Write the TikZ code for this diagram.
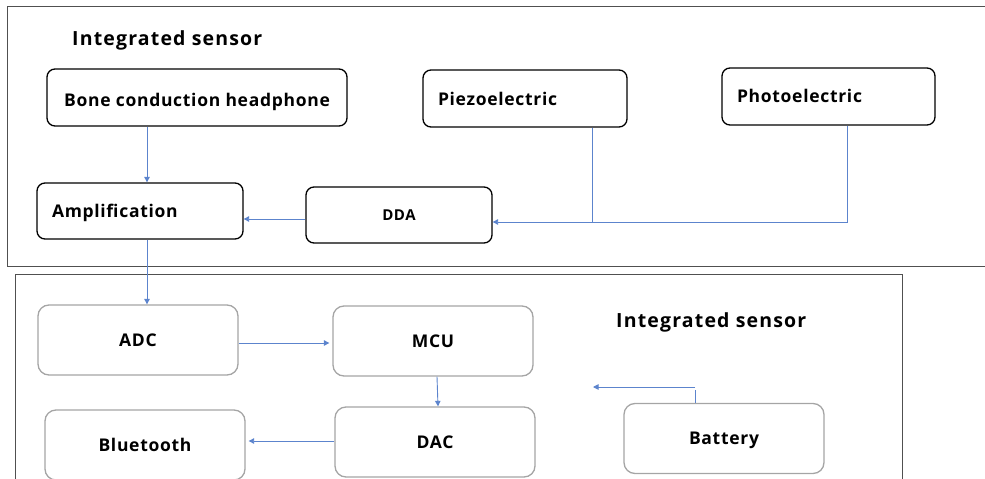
\documentclass[tikz,border=0pt]{standalone}
\usepackage{fontspec}
\setmainfont{Open Sans}[LetterSpace=4]
\usetikzlibrary{arrows.meta}
\definecolor{linkblue}{RGB}{92,132,205}
\definecolor{framegray}{RGB}{80,80,80}
\definecolor{softgray}{RGB}{165,165,165}
\tikzset{
  every node/.style={text height=15pt, text depth=2.5pt},
  frame/.style={draw=framegray, line width=0.9pt},
  boxfont/.style={font=\bfseries\fontsize{17.5}{20}\selectfont},
  darkbox/.style={draw=black, line width=1.3pt, rounded corners=8pt, boxfont},
  lightbox/.style={draw=softgray, line width=1.3pt, rounded corners=11pt, boxfont},
  leftbox/.style={text width=#1, align=left, inner xsep=15pt},
  title/.style={font=\bfseries\fontsize{19.5}{22}\selectfont\addfontfeature{LetterSpace=6}, anchor=west, inner sep=0pt, text height=16.5pt, text depth=2.6pt},
  link/.style={draw=linkblue, line width=0.9pt, -{Triangle[width=5.5pt,length=5.5pt]}},
  plain/.style={draw=linkblue, line width=0.9pt}
}
\begin{document}
\begin{tikzpicture}[x=1pt,y=-1pt]
\useasboundingbox (0,0) rectangle (985,479);
\clip (0,0) rectangle (985,479);
% outer frames
\draw[frame] (7,6) rectangle (995,266);
\draw[frame] (15,274) rectangle (902,490);
% upper block
\node[title] (t1) at (72,38.5) {Integrated sensor};
\node[darkbox, minimum width=300pt, minimum height=57pt, text height=20pt, text depth=2.5pt] (bone) at (197,97.5) {Bone conduction headphone};
\node[darkbox, leftbox=174pt, minimum height=57pt, text height=16pt, text depth=2.5pt] (piezo) at (525,98.5) {Piezoelectric};
\node[darkbox, leftbox=183pt, minimum height=57pt] (photo) at (828.5,96.5) {Photoelectric};
\node[darkbox, leftbox=176pt, minimum height=56pt] (amp) at (140,211) {Amplification};
\node[darkbox, minimum width=186pt, minimum height=56pt, font=\bfseries\fontsize{15}{17}\selectfont, text height=13pt, text depth=2.3pt] (dda) at (399,215) {DDA};
% lower block
\node[title] (t2) at (616,320.5) {Integrated sensor};
\node[lightbox, minimum width=200pt, minimum height=70pt] (adc) at (138,340) {ADC};
\node[lightbox, minimum width=200pt, minimum height=70pt] (mcu) at (433,341) {MCU};
\node[lightbox, minimum width=200pt, minimum height=70pt] (dac) at (435,442) {DAC};
\node[lightbox, minimum width=200pt, minimum height=70pt] (bt) at (145,445) {Bluetooth};
\node[lightbox, minimum width=200pt, minimum height=70pt] (bat) at (724,438.5) {Battery};
% junction points
\coordinate (jp) at (592,222);
\coordinate (jb) at (695,387);
\coordinate (be) at (593,387);
% connectors
\draw[link] (bone.south -| 147,0) -- (amp.north -| 147,0);
\draw[link] (dda.west |- 0,219) -- (amp.east |- 0,219);
\draw[plain] (piezo.south -| jp) -- (jp);
\draw[link] (photo.south -| 847,0) |- (dda.east |- jp);
\draw[link] (amp.south -| 147,0) -- (adc.north -| 147,0);
\draw[link] (adc.east |- 0,343) -- ([xshift=-3pt]mcu.west |- 0,343);
\draw[link] (mcu.south -| 437,0) -- (dac.north -| 438,0);
\draw[link] (dac.west |- 0,441) -- ([xshift=3pt]bt.east |- 0,441);
\draw[plain] (bat.north -| jb) -- ([yshift=-3pt]jb);
\draw[link] (jb) -- (be);
\end{tikzpicture}
\end{document}
